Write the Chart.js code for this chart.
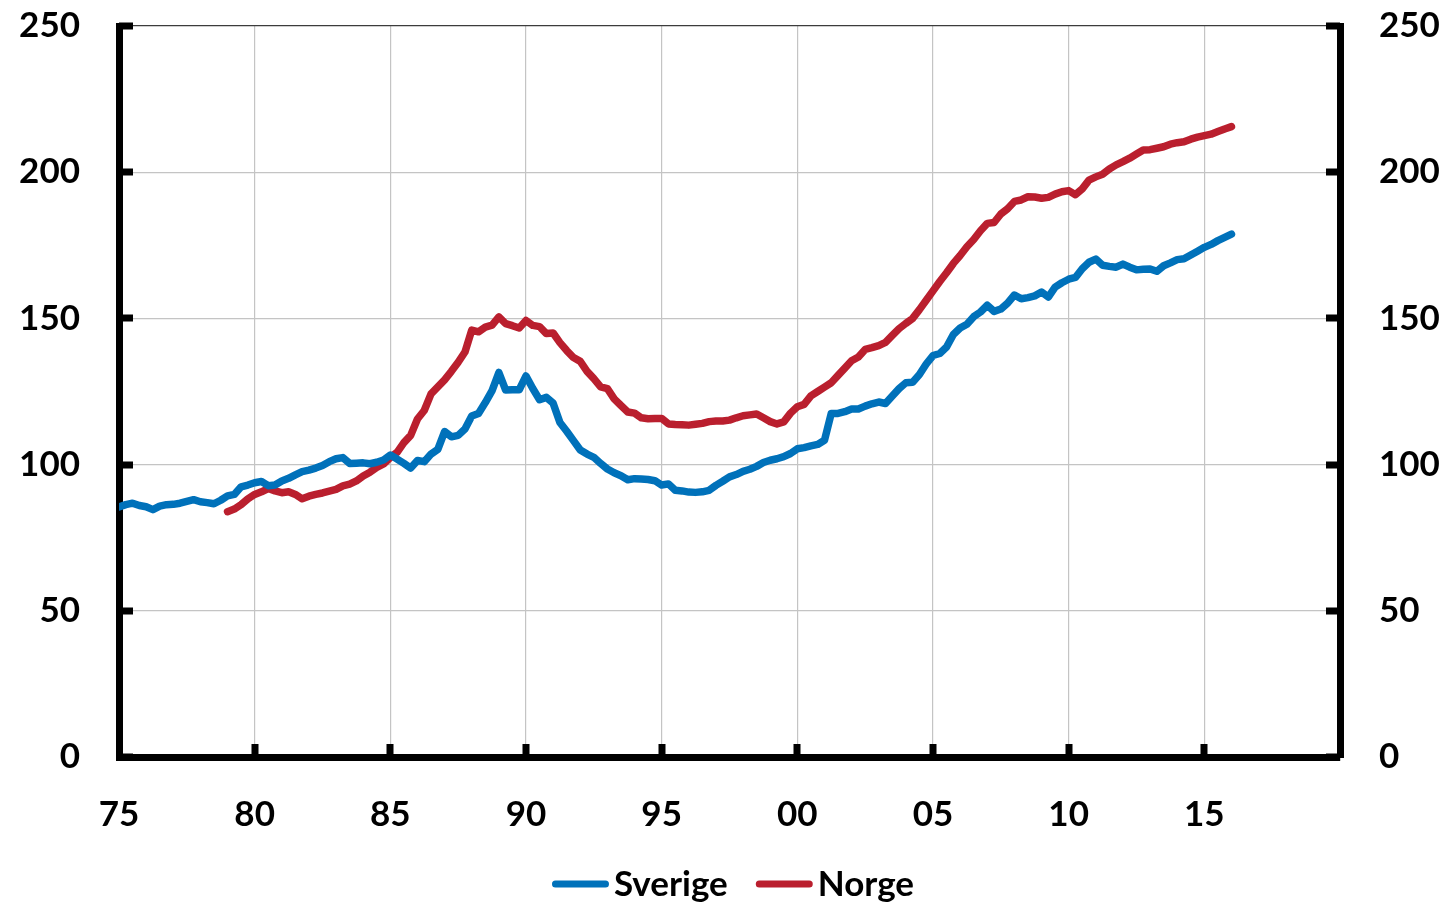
<!DOCTYPE html>
<html>
<head>
<meta charset="utf-8">
<script src="https://cdn.jsdelivr.net/npm/chart.js@4.4.1/dist/chart.umd.min.js"></script>
<style>
    html, body { margin: 0; padding: 0; background: #fff; }
    #wrap { width: 1453px; height: 903px; }
</style>
</head>
<body>
<div id="wrap"><canvas id="myChart"></canvas></div>
<script>
// quarterly index values
const sverigeStart = 1975;
const sverige = [
    85.5, 86.3, 86.8, 86.0, 85.6, 84.6, 85.8, 86.3, 86.4, 86.8,
    87.4, 88.0, 87.3, 87.0, 86.6, 87.8, 89.3, 89.8, 92.4, 93.0,
    93.8, 94.2, 92.8, 93.0, 94.4, 95.3, 96.5, 97.6, 98.1, 98.8,
    99.7, 101.0, 102.0, 102.4, 100.4, 100.5, 100.6, 100.3, 100.8, 101.6,
    103.3, 101.9, 100.4, 98.8, 101.4, 101.0, 103.6, 105.2, 111.3, 109.5,
    110.0, 112.2, 116.6, 117.5, 121.2, 125.3, 131.5, 125.5, 125.6, 125.6,
    130.3, 126.0, 122.2, 123.0, 121.0, 114.4, 111.4, 108.2, 105.0, 103.6,
    102.5, 100.4, 98.5, 97.2, 96.2, 94.8, 95.2, 95.1, 94.9, 94.5,
    93.0, 93.4, 91.2, 91.0, 90.6, 90.5, 90.7, 91.2, 92.9, 94.3,
    95.8, 96.6, 97.7, 98.4, 99.4, 100.7, 101.5, 102.0, 102.7, 103.8,
    105.4, 105.8, 106.4, 106.9, 108.3, 117.5, 117.5, 118.1, 119.0, 119.0,
    120.0, 120.8, 121.4, 120.9, 123.5, 126.0, 128.0, 128.2, 130.8, 134.4,
    137.3, 138.0, 140.2, 144.5, 146.7, 148.0, 150.6, 152.2, 154.5, 152.4,
    153.2, 155.2, 158.0, 156.7, 157.1, 157.7, 159.0, 157.3, 160.7, 162.2,
    163.4, 164.0, 167.0, 169.2, 170.3, 168.2, 167.8, 167.5, 168.6, 167.5,
    166.6, 166.8, 166.9, 166.1, 168.0, 169.0, 170.1, 170.4, 171.7, 173.0,
    174.3, 175.3, 176.6, 177.7, 178.8
];

const norgeStart = 1979;
const norge = [
    83.9, 84.8, 86.3, 88.3, 89.8, 90.7, 91.8, 91.0, 90.4, 90.7,
    89.8, 88.3, 89.2, 89.8, 90.3, 90.9, 91.5, 92.7, 93.3, 94.4,
    96.1, 97.4, 99.0, 100.2, 102.4, 104.2, 107.5, 110.0, 115.6, 118.5,
    124.2, 126.6, 129.0, 131.9, 135.0, 138.5, 146.0, 145.4, 147.0, 147.7,
    150.5, 148.2, 147.5, 146.7, 149.3, 147.6, 147.2, 144.8, 145.0, 141.7,
    139.0, 136.6, 135.3, 131.9, 129.4, 126.6, 126.0, 122.5, 120.2, 118.0,
    117.6, 116.0, 115.7, 115.8, 115.8, 113.9, 113.7, 113.6, 113.5, 113.8,
    114.1, 114.7, 114.9, 114.9, 115.2, 116.0, 116.7, 117.0, 117.3, 116.0,
    114.7, 113.9, 114.6, 117.6, 119.8, 120.6, 123.5, 125.0, 126.5, 128.0,
    130.5, 133.0, 135.5, 136.8, 139.4, 140.0, 140.7, 141.8, 144.2, 146.5,
    148.3, 150.0, 153.0, 156.2, 159.4, 162.6, 165.6, 168.8, 171.5, 174.5,
    177.0, 180.0, 182.5, 182.8, 185.7, 187.5, 190.0, 190.5, 191.6, 191.5,
    191.1, 191.4, 192.5, 193.3, 193.7, 192.3, 194.3, 197.3, 198.4, 199.3,
    201.1, 202.5, 203.6, 204.8, 206.2, 207.6, 207.7, 208.2, 208.7, 209.6,
    210.1, 210.4, 211.3, 212.0, 212.5, 213.0, 213.9, 214.8, 215.6
];

const seriesNames = ['Sverige', 'Norge'];
const seriesColors = ['#0071BA', '#BA1F2E'];

const xMin = 1975;
const xMax = 2020;
const yMin = 0;
const yMax = 250;
const yStep = 50;
const xStep = 5;

const FONT = 'Lato, "Open Sans", sans-serif';

function toPoints(start, values) {
    return values.map(function (v, i) {
        return { x: start + i / 4, y: v };
    });
}

// small tick marks pointing into the plot, like the original
const innerTicks = {
    id: 'innerTicks',
    afterDraw: function (chart) {
        const ctx = chart.ctx;
        const area = chart.chartArea;
        const x = chart.scales.x;
        const y = chart.scales.y;
        ctx.save();
        ctx.fillStyle = '#000';
        for (let v = yMin; v <= yMax; v += yStep) {
            const py = Math.round(y.getPixelForValue(v));
            ctx.fillRect(area.left, py - 3.5, 14, 7);
            ctx.fillRect(area.right - 14, py - 3.5, 14, 7);
        }
        for (let v = xMin + xStep; v < xMax; v += xStep) {
            const px = Math.round(x.getPixelForValue(v));
            ctx.fillRect(px - 3.5, area.bottom - 13, 7, 13);
        }
        ctx.restore();
    }
};

// legend drawn with a short gap between line and text
const lineLegend = {
    id: 'lineLegend',
    afterDraw: function (chart) {
        const ctx = chart.ctx;
        const cy = 884;
        const lineLen = 50;
        const gapText = 5;
        const gapItem = 28;
        ctx.save();
        ctx.font = 'bold 35px ' + FONT;
        ctx.textBaseline = 'middle';
        let widths = chart.data.datasets.map(function (ds) {
            return 3.5 + lineLen + 3.5 + gapText + ctx.measureText(ds.label).width;
        });
        let total = widths.reduce(function (a, b) { return a + b; }, 0) + gapItem * (widths.length - 1);
        let cx = 733 - total / 2;
        chart.data.datasets.forEach(function (ds, i) {
            ctx.strokeStyle = ds.borderColor;
            ctx.lineWidth = 7;
            ctx.lineCap = 'round';
            ctx.beginPath();
            ctx.moveTo(cx + 3.5, cy);
            ctx.lineTo(cx + 3.5 + lineLen, cy);
            ctx.stroke();
            ctx.fillStyle = '#000';
            ctx.fillText(ds.label, cx + 7 + lineLen + gapText, cy + 1);
            cx += widths[i] + gapItem;
        });
        ctx.restore();
    }
};

function yearLabel(v) {
    if (v === xMax) return '';
    return String(v % 100).padStart(2, '0');
}

// fixed side widths so the plot area lands where the original has it
function fitSide(width) {
    return function (scale) {
        scale.width = width;
        scale.paddingTop = 0;
        scale.paddingBottom = 0;
    };
}

const data = {
    datasets: [{
        label: seriesNames[0],
        data: toPoints(sverigeStart, sverige),
        borderColor: seriesColors[0],
        backgroundColor: seriesColors[0],
    }, {
        label: seriesNames[1],
        data: toPoints(norgeStart, norge),
        borderColor: seriesColors[1],
        backgroundColor: seriesColors[1],
    }]
};

const config = {
    type: 'line',
    data: data,
    options: {
        responsive: true,
        maintainAspectRatio: false,
        animation: false,
        layout: {
            padding: { top: 26, bottom: 0, left: 0, right: 0 }
        },
        elements: {
            point: { radius: 0 },
            line: {
                borderWidth: 7.5,
                tension: 0,
                borderJoinStyle: 'round',
                borderCapStyle: 'round'
            }
        },
        plugins: {
            legend: { display: false },
            tooltip: { enabled: false }
        },
        scales: {
            x: {
                type: 'linear',
                min: xMin,
                max: xMax,
                afterFit: function (scale) { scale.height = 146; },
                ticks: {
                    stepSize: xStep,
                    callback: yearLabel,
                    color: '#000',
                    padding: 37,
                    maxRotation: 0,
                    font: { family: FONT, size: 35, weight: 'bold' }
                },
                grid: {
                    drawTicks: false,
                    color: function (c) {
                        const v = c.tick ? c.tick.value : null;
                        return (v === xMin || v === xMax) ? 'rgba(0,0,0,0)' : '#c4c4c4';
                    },
                    lineWidth: 1.2
                },
                border: { display: true, color: '#000', width: 7 }
            },
            y: {
                position: 'left',
                min: yMin,
                max: yMax,
                afterFit: fitSide(119),
                ticks: {
                    stepSize: yStep,
                    color: '#000',
                    padding: 39,
                    font: { family: FONT, size: 35, weight: 'bold' }
                },
                grid: {
                    drawTicks: false,
                    color: function (c) {
                        const v = c.tick ? c.tick.value : null;
                        if (v === yMax) return '#3c3c3c';
                        return v === yMin ? 'rgba(0,0,0,0)' : '#c4c4c4';
                    },
                    lineWidth: 1.2
                },
                border: { display: true, color: '#000', width: 7 }
            },
            y2: {
                position: 'right',
                min: yMin,
                max: yMax,
                afterFit: fitSide(113),
                ticks: {
                    stepSize: yStep,
                    color: '#000',
                    padding: 39,
                    font: { family: FONT, size: 35, weight: 'bold' }
                },
                grid: { display: false, drawTicks: false },
                border: { display: true, color: '#000', width: 7 }
            }
        }
    },
    plugins: [innerTicks, lineLegend]
};

new Chart(document.getElementById('myChart'), config);
</script>
</body>
</html>
